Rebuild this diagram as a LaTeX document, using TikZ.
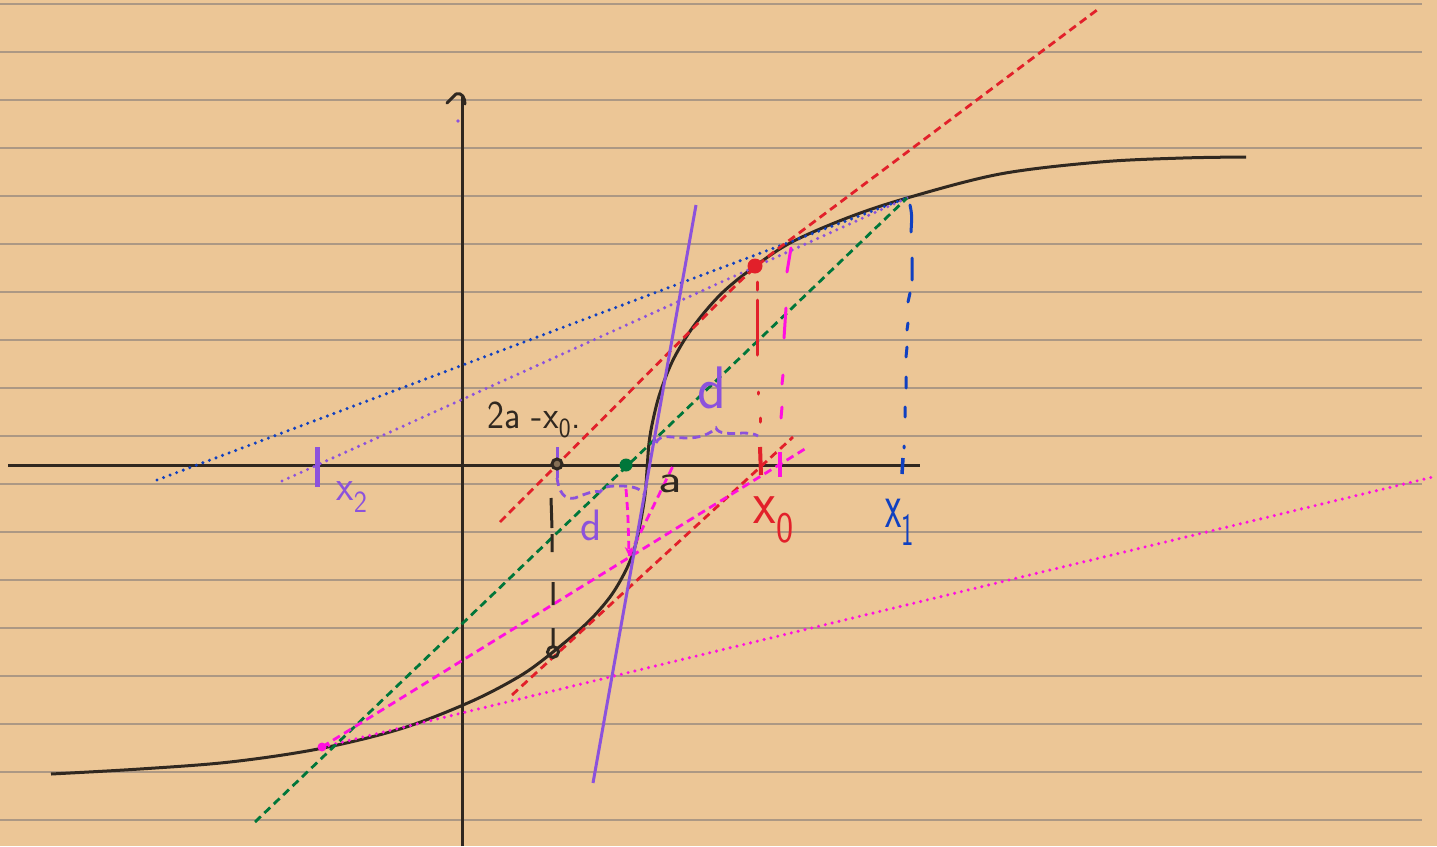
\documentclass[tikz,border=0pt]{standalone}
\usepackage{fontspec}
\usepackage{graphicx}
\usetikzlibrary{arrows.meta}
\definecolor{paper}{RGB}{236,198,150}
\definecolor{rulec}{RGB}{172,152,132}
\definecolor{ink}{RGB}{48,40,32}
\definecolor{pred}{RGB}{226,32,42}
\definecolor{pgreen}{RGB}{0,118,58}
\definecolor{pblue}{RGB}{16,64,192}
\definecolor{ppurple}{RGB}{140,82,220}
\definecolor{pmag}{RGB}{255,16,224}
\begin{document}
\begin{tikzpicture}[x=1pt,y=-1pt,
  dsh/.style={line width=2.8pt, dash pattern=on 8pt off 5pt},
  dts/.style={line width=3.4pt, line cap=round, dash pattern=on 0pt off 7pt},
  lbl/.style={inner sep=0pt, anchor=center},
  hand/.style={line width=3pt, line cap=round, line join=round}]
\fill[paper] (0,0) rectangle (1437,846);
\useasboundingbox (0,0) rectangle (1437,846);
\foreach \k in {0,...,17} \draw[rulec, line width=2pt] (0,4+48*\k) -- (1422,4+48*\k);

% key points
\coordinate (O) at (462,465);
\coordinate (X0) at (755,266);
\coordinate (X1) at (907,198);
\coordinate (X2) at (322,747);
\coordinate (G) at (626,465);
\coordinate (B) at (557,464);
\coordinate (BL) at (553,652);
\coordinate (M) at (629,556);

% axes
\draw[ink, line width=3pt] (8,465) -- (920,465);
\draw[ink, line width=3pt] (462,846) -- (462,97);
\draw[ink, hand] (447,103) -- (456,94) .. controls (462,92) and (465,98) .. (465,104);
\fill[ppurple] (458,121) circle (1.8);

% sigmoid
\draw[ink, line width=3pt] plot[smooth, tension=0.55] coordinates {
(51,774) (140,769) (230,762) (318,749) (400,729) (470,702) (520,676) (553,652)
(587,623) (610,597) (625,572) (634,550) (640,525) (645,495) (647,470) (649,443)
(653,420) (660,393) (673,360) (693,327) (720,295) (750,270) (790,243) (847,218)
(907,198) (1000,174) (1100,162) (1183,158) (1246,157)};

% straight / dotted lines
\draw[pblue, dts] (157,480) -- (X1);
\draw[ppurple, dts] (282,481) -- (X1);
\draw[pmag, dts] (X2) -- (1437,476);
\draw[pgreen, dsh] (255,822) -- (X1);
\draw[pred, dsh, rounded corners=30pt] (500,522) -- (X0) -- (1097,10);
\draw[pred, dsh] (512,695) -- (793,437);
\draw[pmag, dsh] (X2) -- (808,447);
\draw[pmag, dsh] (M) -- (673,466);
\draw[pmag, dsh, -{Stealth[length=9pt,width=8pt]}] (626,489) .. controls (628,515) .. (M);
\draw[ppurple, line width=3pt] (593,783) -- (696,205);

% verticals
\draw[ink, line width=3pt] (551,498) -- (552,528) (552,534) -- (552,552) (553,582) -- (553,605) (553,628) -- (553,648);
\draw[pred, hand] (757,282) -- (757,290) (757,300) -- (757,355) (758,392) -- (758,394) (760,418) -- (760,422);
\draw[pred, line width=4pt] (760,447) -- (761,475);
\draw[pmag, hand] (791,248) -- (787,272) (786,308) -- (784,338) (783,375) -- (782,384) (782,407) -- (781,418);
\draw[pmag, line width=4.5pt] (780,452) -- (780,477);
\draw[pblue, hand] (910,205) .. controls (912,215) .. (911,232)
  (912,258) -- (912,280) (910,293) -- (908,302) (908,323) -- (907,330)
  (907,347) -- (906,357) (906,377) -- (906,388) (905,407) -- (905,417) (904,446) -- (904,448);
\draw[pblue, line width=3.5pt] (903,458) -- (902,474);
\draw[ppurple, line width=5pt] (317,447) -- (317,487);

% braces
\draw[ppurple, line width=3pt] (557,447) -- (557,478);
\draw[ppurple, line width=2.8pt, dash pattern=on 8pt off 5pt] (557,478) .. controls (559,492) and (564,500) .. (575,498)
  .. controls (585,494) and (595,490) .. (600,492) .. controls (603,486) and (610,486) .. (620,486)
  .. controls (632,486) and (640,488) .. (644,494);
\draw[ppurple, line width=2.8pt, dash pattern=on 8pt off 5pt] (656,443) .. controls (660,433) and (672,438) .. (687,438)
  .. controls (700,438) and (710,434) .. (716,428) .. controls (718,434) and (730,434) .. (743,433)
  .. controls (750,433) and (755,434) .. (758,436);

% points
\fill[pred] (X0) circle (7.5);
\fill[pgreen] (G) circle (6.5);
\draw[ink, line width=3pt, fill=ink!55!paper] (B) circle (5);
\draw[ink, line width=3pt] (BL) circle (5.5);
\fill[pmag] (X2) circle (4.5);

% labels
\node[lbl, ink, font=\sffamily\fontsize{36}{38}\selectfont] (l2a) at (534,420) {\scalebox{1}[1.1]{2a -x\textsubscript{0}.}};
\node[lbl, ink, font=\sffamily\fontsize{40}{42}\selectfont] (la) at (670,484) {\scalebox{1.3}[1]{a}};
\node[lbl, pred, font=\sffamily\fontsize{52}{54}\selectfont] (lx0) at (774,520) {\scalebox{1}[1.2]{x\textsubscript{0}}};
\node[lbl, pblue, font=\sffamily\fontsize{44}{46}\selectfont] (lx1) at (900,522) {\scalebox{0.85}[1.5]{x\textsubscript{1}}};
\node[lbl, ppurple, font=\sffamily\fontsize{40}{42}\selectfont] (lx2) at (352,497) {\scalebox{1}[1.1]{x\textsubscript{2}}};
\node[lbl, ppurple, font=\sffamily\fontsize{44}{46}\selectfont] (ld1) at (591,525) {d};
\node[lbl, ppurple, font=\sffamily\fontsize{60}{62}\selectfont] (ld2) at (712,388) {d};
\end{tikzpicture}
\end{document}
